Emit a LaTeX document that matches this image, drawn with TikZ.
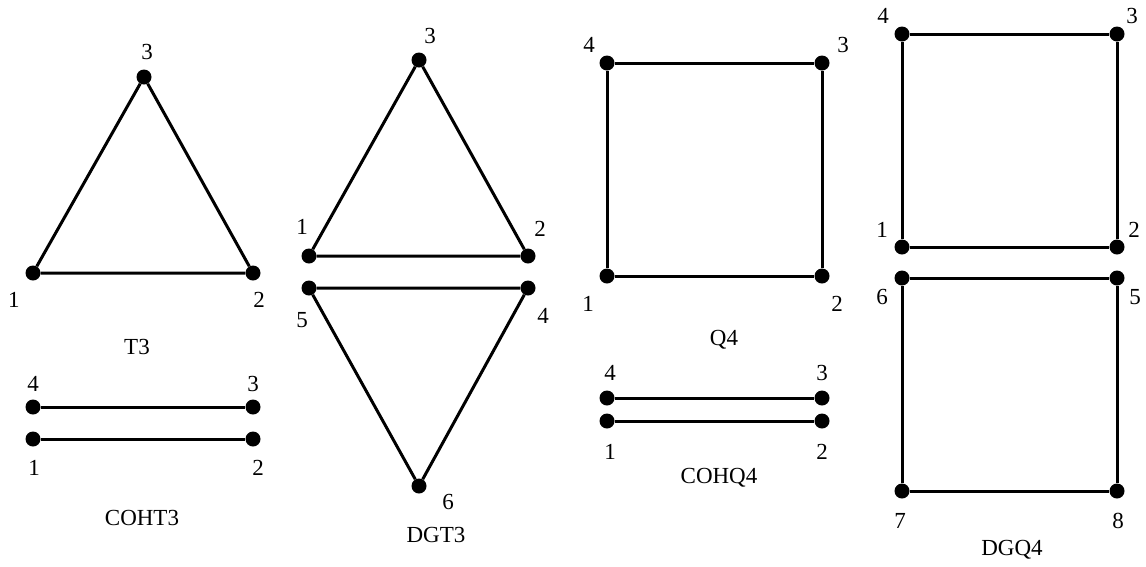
\documentclass[tikz,border=0pt]{standalone}
\usepackage{fontspec}
\setmainfont{Liberation Serif}
\begin{document}
\begin{tikzpicture}[x=1pt,y=-1pt,
  dot/.style={circle,fill=black,inner sep=0pt,minimum size=15pt},
  lbl/.style={inner sep=0pt,font=\fontsize{23}{27}\selectfont},
  edge/.style={line width=3pt}]
\useasboundingbox (0,0) rectangle (1146,566);
% T3
\node[dot] (t1) at (33,273) {};
\node[dot] (t2) at (253,273) {};
\node[dot] (t3) at (144,77) {};
\draw[edge] (t1) -- (t2) -- (t3) -- (t1);
\node[lbl] (lt1) at (14,300) {1};
\node[lbl] (lt2) at (259,300) {2};
\node[lbl] (lt3) at (147,52) {3};
\node[lbl] (nt) at (137,347) {T3};
% COHT3
\node[dot] (c4) at (33,407) {};
\node[dot] (c3) at (253,407) {};
\node[dot] (c1) at (33,439) {};
\node[dot] (c2) at (253,439) {};
\draw[edge] (c4) -- (c3);
\draw[edge] (c1) -- (c2);
\node[lbl] (lc4) at (33,384) {4};
\node[lbl] (lc3) at (253,384) {3};
\node[lbl] (lc1) at (34,468) {1};
\node[lbl] (lc2) at (258,468) {2};
\node[lbl] (nc) at (142,518) {COHT3};
% DGT3
\node[dot] (d3) at (419,60) {};
\node[dot] (d1) at (309,256) {};
\node[dot] (d2) at (528,256) {};
\node[dot] (d5) at (309,288) {};
\node[dot] (d4) at (528,288) {};
\node[dot] (d6) at (419,486) {};
\draw[edge] (d1) -- (d2) -- (d3) -- (d1);
\draw[edge] (d5) -- (d4) -- (d6) -- (d5);
\node[lbl] (ld3) at (430,36) {3};
\node[lbl] (ld1) at (302,227) {1};
\node[lbl] (ld2) at (540,229) {2};
\node[lbl] (ld5) at (302,320) {5};
\node[lbl] (ld4) at (543,316) {4};
\node[lbl] (ld6) at (448,502) {6};
\node[lbl] (nd) at (436,535) {DGT3};
% Q4
\node[dot] (q4) at (607,63) {};
\node[dot] (q3) at (822,63) {};
\node[dot] (q1) at (607,276) {};
\node[dot] (q2) at (822,276) {};
\draw[edge] (q1) -- (q2) -- (q3) -- (q4) -- (q1);
\node[lbl] (lq4) at (589,45) {4};
\node[lbl] (lq3) at (843,45) {3};
\node[lbl] (lq1) at (588,304) {1};
\node[lbl] (lq2) at (837,304) {2};
\node[lbl] (nq) at (724,340) {Q4};
% COHQ4
\node[dot] (h4) at (607,398) {};
\node[dot] (h3) at (822,398) {};
\node[dot] (h1) at (607,421) {};
\node[dot] (h2) at (822,421) {};
\draw[edge] (h4) -- (h3);
\draw[edge] (h1) -- (h2);
\node[lbl] (lh4) at (610,373) {4};
\node[lbl] (lh3) at (822,373) {3};
\node[lbl] (lh1) at (610,452) {1};
\node[lbl] (lh2) at (822,452) {2};
\node[lbl] (nh) at (719,478) {COHQ4};
% DGQ4
\node[dot] (g4) at (902,34) {};
\node[dot] (g3) at (1117,34) {};
\node[dot] (g1) at (902,247) {};
\node[dot] (g2) at (1117,247) {};
\node[dot] (g6) at (902,278) {};
\node[dot] (g5) at (1117,278) {};
\node[dot] (g7) at (902,491) {};
\node[dot] (g8) at (1117,491) {};
\draw[edge] (g1) -- (g2) -- (g3) -- (g4) -- (g1);
\draw[edge] (g6) -- (g5) -- (g8) -- (g7) -- (g6);
\node[lbl] (lg4) at (883,16) {4};
\node[lbl] (lg3) at (1132,16) {3};
\node[lbl] (lg1) at (882,230) {1};
\node[lbl] (lg2) at (1134,230) {2};
\node[lbl] (lg6) at (882,297) {6};
\node[lbl] (lg5) at (1135,297) {5};
\node[lbl] (lg7) at (900,521) {7};
\node[lbl] (lg8) at (1118,521) {8};
\node[lbl] (ng) at (1012,550) {DGQ4};
\end{tikzpicture}
\end{document}
